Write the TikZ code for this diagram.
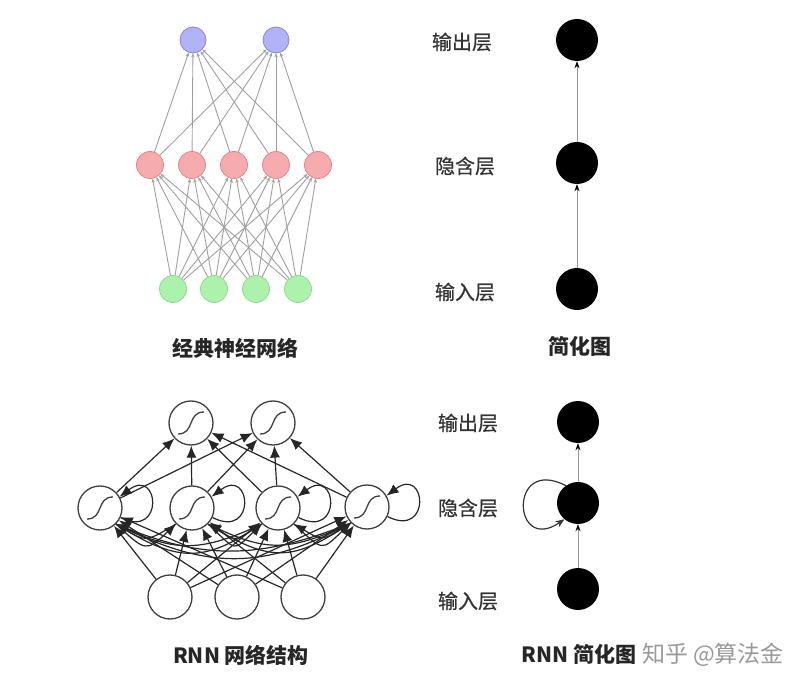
\documentclass[tikz,border=0pt]{standalone}
\usepackage{fontspec}
\setmainfont{Noto Sans CJK SC}
\newfontfamily\layerfont[FakeBold=0.6]{Noto Sans CJK SC}
\usetikzlibrary{arrows.meta}

\definecolor{outfill}{RGB}{178,178,246}
\definecolor{outline}{RGB}{132,132,222}
\definecolor{hidfill}{RGB}{246,172,174}
\definecolor{hidline}{RGB}{224,132,136}
\definecolor{infill}{RGB}{172,242,172}
\definecolor{inline}{RGB}{140,218,140}

\tikzset{
    outunit/.style={circle, draw=outline, fill=outfill, thick, minimum size=26pt, inner sep=0pt},
    hidunit/.style={circle, draw=hidline, fill=hidfill, thick, minimum size=27pt, inner sep=0pt},
    inunit/.style={circle, draw=inline, fill=infill, thick, minimum size=27pt, inner sep=0pt},
    nnedge/.style={draw=gray!75, line width=0.9pt, -{Stealth[length=4pt, width=3.5pt]}},
    blackunit/.style={circle, fill=black, minimum size=42pt, inner sep=0pt},
    simple/.style={draw=gray!80, line width=0.8pt, -{Stealth[length=7pt, width=5pt, color=black]}},
    rnnunit/.style={circle, draw=black!75, line width=1.3pt, fill=white, minimum size=44pt, inner sep=0pt},
    sigunit/.style={rnnunit, path picture={
        \draw[line width=1.3pt] ([shift={(-13,11)}]path picture bounding box.center)
            .. controls +(17,0) and +(-17,0) .. ([shift={(13,-11)}]path picture bounding box.center);}},
    rnnedge/.style={draw=black!85, line width=1.2pt, -{Latex[length=12pt, width=10pt]}},
    layer/.style={font=\layerfont\fontsize{20}{20}\selectfont, text=black!80},
    title/.style={font=\fontsize{21}{21}\selectfont\bfseries, text=black!85}
}

\begin{document}
\begin{tikzpicture}[x=1pt,y=-1pt]
    \useasboundingbox (0,0) rectangle (807,687);

    % classic network
    \node[outunit] (o1) at (193,40) {};
    \node[outunit] (o2) at (276,40) {};
    \node[hidunit] (h1) at (150,165) {};
    \node[hidunit] (h2) at (192,165) {};
    \node[hidunit] (h3) at (234,165) {};
    \node[hidunit] (h4) at (276,165) {};
    \node[hidunit] (h5) at (318,165) {};
    \node[inunit] (i1) at (173,289) {};
    \node[inunit] (i2) at (214,289) {};
    \node[inunit] (i3) at (256,289) {};
    \node[inunit] (i4) at (298,289) {};
    \foreach \a in {1,...,5} {
        \foreach \b in {1,2} \draw[nnedge] (h\a) -- (o\b);
        \foreach \b in {1,...,4} \draw[nnedge] (i\b) -- (h\a);
    }
    \node[title] (t1) at (235,348) {经典神经网络};

    % simplified network
    \node[blackunit] (so) at (577,40) {};
    \node[blackunit] (sh) at (577,163) {};
    \node[blackunit] (si) at (577,289) {};
    \draw[simple] (si) -- (sh);
    \draw[simple] (sh) -- (so);
    \node[layer] (lo) at (462,42) {输出层};
    \node[layer] (lh) at (465,166) {隐含层};
    \node[layer] (li) at (465,292) {输入层};
    \node[title] (t2) at (580,346) {简化图};

    % rnn network
    \node[sigunit] (ro1) at (191,423) {};
    \node[sigunit] (ro2) at (273,423) {};
    \node[sigunit] (rh1) at (100,508) {};
    \node[sigunit] (rh2) at (192,508) {};
    \node[sigunit] (rh3) at (278,508) {};
    \node[sigunit] (rh4) at (367,507) {};
    \node[rnnunit] (ri1) at (170,597) {};
    \node[rnnunit] (ri2) at (237,597) {};
    \node[rnnunit] (ri3) at (303,597) {};
    \foreach \a in {1,...,4} {
        \foreach \b in {1,2} \draw[rnnedge] (rh\a) -- (ro\b);
        \foreach \b in {1,2,3} \draw[rnnedge] (ri\b) -- (rh\a);
        \draw[rnnedge] (rh\a.-25) .. controls +(44,22) and +(40,-30) .. (rh\a.30);
    }
    \foreach \a/\b/\dx/\dy in {1/2/30/28,1/3/60/38,1/4/90/46,2/3/30/28,2/4/60/38,3/4/30/28} {
        \draw[rnnedge] (rh\a.-45) .. controls +(\dx,\dy) and +(-\dx,\dy) .. (rh\b.-135);
        \draw[rnnedge] (rh\b.-135) .. controls +(-\dx,\dy-10) and +(\dx,\dy-10) .. (rh\a.-45);
    }
    \node[title] (t3) at (241,655) {RNN 网络结构};

    % rnn simplified
    \node[blackunit] (rso) at (578,422) {};
    \node[blackunit] (rsh) at (578,503) {};
    \node[blackunit] (rsi) at (578,589) {};
    \draw[simple] (rsi) -- (rsh);
    \draw[simple] (rsh) -- (rso);
    \draw[draw=black!80, line width=1.2pt, -{Stealth[length=9pt, width=7pt]}]
        (rsh.125) .. controls +(-58,-30) and +(-52,36) .. (rsh.-130);
    \node[layer] (rlo) at (468,423) {输出层};
    \node[layer] (rlh) at (468,508) {隐含层};
    \node[layer] (rli) at (468,601) {输入层};
    \node[title] (t4) at (579,654) {RNN 简化图};
    \node[font=\fontsize{23}{23}\selectfont, text=black!40] (wm) at (713,655) {知乎 @算法金};
\end{tikzpicture}
\end{document}
